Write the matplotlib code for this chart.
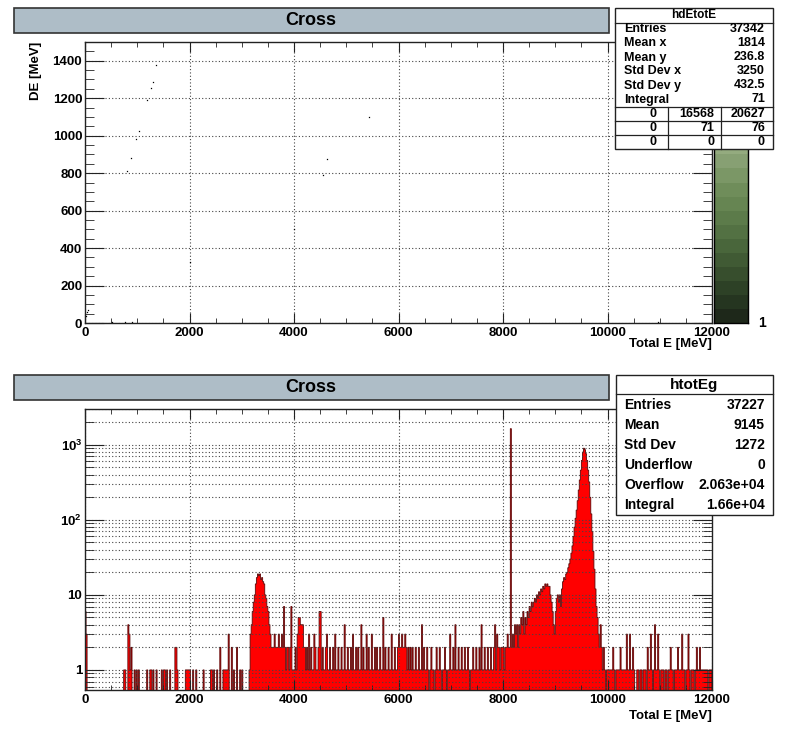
import numpy as np
import matplotlib.pyplot as plt
from matplotlib.patches import Rectangle
from matplotlib.colors import ListedColormap
from matplotlib.ticker import MultipleLocator, LogLocator, NullFormatter, FuncFormatter

plt.rcParams['font.family'] = ['Liberation Sans', 'DejaVu Sans']
plt.rcParams['font.weight'] = 'bold'
plt.rcParams['mathtext.fontset'] = 'custom'
plt.rcParams['mathtext.rm'] = 'Liberation Sans:bold'
plt.rcParams['mathtext.bf'] = 'Liberation Sans:bold'

W, H = 798, 734

# ---- top panel: hdEtotE, the few visible (Total E, DE) entries
scat_e = [1365, 1295, 1256, 1192, 1032, 968, 872, 808, 4635, 4558, 5430,
          2006, 3994, 45, 13, 64, 513, 769, 897, 10960]
scat_de = [1378, 1289, 1254, 1188, 1026, 982, 880, 811, 875, 790, 1102,
           325, 501, 57, 35, 67, 3, 3, 3, 5]

stats1_names = ['Entries', 'Mean x', 'Mean y', 'Std Dev x', 'Std Dev y', 'Integral']
stats1_vals = ['37342', '1814', '236.8', '3250', '432.5', '71']
stats1_table = [['0', '16568', '20627'],
                ['0', '71', '76'],
                ['0', '0', '0']]

# colour bands of the z palette, bottom to top
band_colors = ['#1e281a', '#253520', '#2d4126', '#374e2d', '#405a34', '#49663b',
               '#537143', '#5c7b4a', '#668552', '#6f8d5a', '#7b9766', '#87a073',
               '#94ab7f', '#a2b68d', '#b0c19c', '#bfccab', '#cdd8ba', '#dbe3c9',
               '#e8edd7', '#f4f7e6']

# ---- bottom panel: htotEg, 20 MeV bins from 0 to 12000 MeV
bin_width = 20
noise_low = [6, 3, 0, 0, 0, 0, 0, 0, 0, 0,
             0, 0, 0, 0, 0, 0, 0, 0, 0, 0,
             0, 0, 0, 0, 0, 0, 0, 0, 0, 0,
             0, 0, 0, 0, 0, 0, 0, 1, 1, 0,
             0, 4, 3, 1, 2, 0, 0, 1, 0, 1,
             0, 1, 0, 0, 0, 0, 0, 0, 0, 1,
             0, 0, 1, 1, 0, 1, 0, 0, 1, 0,
             0, 0, 0, 1, 0, 1, 1, 0, 1, 0,
             0, 1, 0, 0, 0, 0, 2, 2, 1, 0,
             0, 0, 0, 0, 0, 0, 1, 1, 1, 1,
             1, 0, 0, 1, 0, 0, 1, 0, 0, 0,
             0, 0, 0, 1, 0, 0, 0, 0, 0, 0,
             1, 1, 0, 1, 0, 0, 1, 0, 0, 2,
             0, 0, 1, 1, 1, 1, 1, 3, 0, 0,
             2, 0, 1, 0, 0, 2, 0, 0, 1, 0,
             1, 0, 0, 0, 0]                      # 0 - 3100
peak1 = [0, 0, 1, 3, 4, 6, 8, 10, 14, 17,
         19, 18, 19, 16, 17, 15, 14, 10, 9, 7,
         6, 4, 3, 2, 2, 2, 3, 2, 2, 2]          # 3100 - 3700
noise_mid = [3, 2, 2, 3, 2, 7, 2, 1, 2, 2,
             1, 2, 7, 1, 1, 1, 2, 1, 3, 5,
             5, 4, 4, 4, 2, 2, 1, 2, 1, 3,
             1, 2, 1, 1, 3, 2, 1, 1, 2, 6,
             6, 1, 2, 1, 1, 2, 3, 1, 1, 2,
             1, 1, 2, 1, 3, 1, 1, 2, 1, 1,
             2, 1, 1, 4, 1, 1, 2, 1, 1, 2,
             1, 3, 1, 1, 2, 1, 2, 1, 1, 4,
             1, 2, 1, 1, 3, 1, 2, 1, 1, 3,
             1, 1, 2, 1, 2, 1, 1, 2, 1, 1,
             5, 1, 2, 1, 1, 2, 1, 1, 3, 1,
             1, 2, 1, 1, 2, 3, 2, 2, 3, 2,
             2, 3, 2, 1, 2, 1, 2, 1, 2, 1,
             1, 2, 1, 1, 2, 1, 1, 4, 1, 2,
             1, 1, 2, 1, 0, 1, 2, 1, 1, 0,
             1, 2, 1, 1, 2, 1, 0, 1, 1, 2,
             1, 0, 1, 1, 3, 1, 1, 2, 1, 4,
             1, 1, 2, 1, 1, 2, 1, 1, 2, 1,
             1, 2, 1, 0, 1, 1, 2, 1, 1, 2,
             1, 1, 2, 1, 4, 1, 1, 2, 1, 1,
             2, 1, 1, 2, 1, 1, 2, 4, 1, 3,
             2, 2, 1, 2, 2, 2, 1, 2, 2, 3]      # 3700 - 8100
peak2 = [2, 2, 1640, 2, 3, 2, 4, 3, 4, 2,
         4, 3, 5, 4, 6, 3, 5, 4, 6, 5,
         7, 6, 8, 7, 8, 9, 8, 10, 9, 11,
         10, 12, 11, 13, 12, 14, 13, 14, 13, 13,
         10, 8, 6, 4, 3, 6, 9, 10, 8, 10,
         7, 12, 15, 17, 16, 19, 20, 23, 26, 30,
         36, 45, 60, 80, 105, 135, 180, 250, 340, 460,
         620, 800, 900, 860, 760, 620, 460, 320, 200, 120,
         70, 38, 22, 12, 7, 5, 3, 2, 4, 2,
         1, 2, 1, 0, 1]                          # 8100 - 10000
noise_high = [1, 1, 1, 1, 1, 2, 1, 0, 1, 1,
              1, 1, 2, 1, 1, 1, 1, 1, 3, 1,
              1, 3, 1, 1, 2, 1, 0, 0, 1, 1,
              0, 1, 1, 0, 1, 1, 1, 0, 2, 1,
              1, 3, 1, 0, 1, 4, 1, 1, 3, 1,
              0, 1, 1, 1, 0, 1, 1, 0, 1, 1,
              2, 1, 1, 0, 1, 1, 1, 2, 1, 1,
              1, 3, 1, 1, 0, 1, 1, 3, 1, 0,
              1, 1, 1, 0, 1, 2, 1, 1, 2, 1,
              1, 1, 1, 1, 1, 1, 0, 1, 1, 1]     # 10000 - 12000

stats2_names = ['Entries', 'Mean', 'Std Dev', 'Underflow', 'Overflow', 'Integral']
stats2_vals = ['37227', '9145', '1272', '0', '2.063e+04', '1.66e+04']

counts = np.array(noise_low + peak1 + noise_mid + peak2 + noise_high, dtype=float)
edges = np.arange(len(counts) + 1) * bin_width


def fx(px):
    return px / W


def fy(py):
    return 1 - py / H


fig = plt.figure(figsize=(W / 100, H / 100), dpi=100)
grid_kw = dict(color='#444444', linestyle=(0, (1, 2)), linewidth=0.8)


def style_axis(ax):
    for s in ax.spines.values():
        s.set_linewidth(1.0)
        s.set_color('#222222')
    ax.tick_params(which='both', direction='in', top=True, right=True,
                   labelsize=9.5, colors='#222222', labelcolor='black')
    ax.tick_params(axis='x', which='major', length=7.2, pad=3)
    ax.tick_params(axis='x', which='minor', length=3.6)
    ax.tick_params(axis='y', which='major', length=13.5, pad=2)
    ax.tick_params(axis='y', which='minor', length=6.7)
    ax.xaxis.set_major_locator(MultipleLocator(2000))
    ax.xaxis.set_minor_locator(MultipleLocator(500))
    ax.set_xlim(0, 12000)


# ---------------- top panel
ax1 = fig.add_axes([fx(85), fy(323), fx(627), 281 / H])
style_axis(ax1)
ax1.set_ylim(0, 1500)
ax1.yaxis.set_major_locator(MultipleLocator(200))
ax1.yaxis.set_minor_locator(MultipleLocator(50))
ax1.grid(True, which='major', **grid_kw)
ax1.plot(scat_e, scat_de, 's', color='black', ms=0.9, mew=0)

cax = fig.add_axes([fx(714), fy(323), fx(34), 281 / H])
cax.imshow(np.arange(len(band_colors)).reshape(-1, 1), cmap=ListedColormap(band_colors),
           origin='lower', aspect='auto', extent=[0, 1, 0, len(band_colors)])
cax.set_xticks([])
cax.set_yticks([])
for s in cax.spines.values():
    s.set_linewidth(1.0)
fig.text(fx(762), fy(323), '1', fontsize=10, ha='center', va='center')

fig.text(fx(36), fy(42), 'DE [MeV]', rotation=90, fontsize=9.5, ha='center', va='top')
fig.text(fx(712), fy(344), 'Total E [MeV]', fontsize=9.5, ha='right', va='center')

# ---------------- bottom panel
ax2 = fig.add_axes([fx(85), fy(690), fx(627), 281 / H])
ax2.set_yscale('log')
style_axis(ax2)
ax2.set_ylim(0.54, 3000)
ax2.yaxis.set_major_locator(LogLocator(base=10))
ax2.yaxis.set_minor_locator(LogLocator(base=10, subs=np.arange(2, 10)))
ax2.yaxis.set_minor_formatter(NullFormatter())
ax2.yaxis.set_major_formatter(FuncFormatter(
    lambda v, p: {1: '1', 10: '10', 100: r'$10^{2}$', 1000: r'$10^{3}$'}.get(int(round(v)), '')))
ax2.grid(True, which='both', axis='y', **grid_kw)
ax2.grid(True, which='major', axis='x', **grid_kw)

floor = 1e-2
shown = np.where(counts > 0, counts, floor)
ax2.stairs(shown, edges, baseline=floor, fill=True, color='#ff0000', lw=0)
ax2.stairs(shown, edges, baseline=floor, color='#5a0808', lw=0.6)

fig.text(fx(712), fy(716), 'Total E [MeV]', fontsize=9.5, ha='right', va='center')

# ---------------- title boxes
for top in (8, 375):
    fig.add_artist(Rectangle((fx(14), fy(top + 25)), fx(595), 25 / H, transform=fig.transFigure,
                             facecolor='#aebdc7', edgecolor='#333333', lw=1.2, zorder=3))
    fig.text(fx(311), fy(top + 12.5), 'Cross', fontsize=13, ha='center', va='center', zorder=4)

# ---------------- stats box top
fig.add_artist(Rectangle((fx(615), fy(149)), fx(158), 141 / H, transform=fig.transFigure,
                         facecolor='white', edgecolor='#222222', lw=1.0, zorder=5))
for y0, x0, x1 in [(22.7, 615, 773), (107.3, 615, 773), (121, 615, 773), (135, 615, 773)]:
    fig.add_artist(plt.Line2D([fx(x0), fx(x1)], [fy(y0), fy(y0)], transform=fig.transFigure,
                              color='#222222', lw=0.9, zorder=6))
for xc in (668.3, 721.3):
    fig.add_artist(plt.Line2D([fx(xc), fx(xc)], [fy(107.3), fy(149)], transform=fig.transFigure,
                              color='#222222', lw=0.9, zorder=6))
fig.text(fx(694), fy(15.5), 'hdEtotE', fontsize=8.5, ha='center', va='center', zorder=7)
for i, (nm, vl) in enumerate(zip(stats1_names, stats1_vals)):
    yy = 29.5 + i * 14
    fig.text(fx(624), fy(yy), nm, fontsize=9, ha='left', va='center', zorder=7)
    fig.text(fx(765), fy(yy), vl, fontsize=9, ha='right', va='center', zorder=7)
col_right = [657, 714, 765]
for r, row in enumerate(stats1_table):
    yy = 114 + r * 14
    for c, vl in enumerate(row):
        fig.text(fx(col_right[c]), fy(yy), vl, fontsize=9, ha='right', va='center', zorder=7)

# ---------------- stats box bottom
fig.add_artist(Rectangle((fx(615.7), fy(515.3)), fx(157), 140.6 / H, transform=fig.transFigure,
                         facecolor='white', edgecolor='#222222', lw=1.0, zorder=5))
fig.add_artist(plt.Line2D([fx(615.7), fx(772.7)], [fy(394.3), fy(394.3)], transform=fig.transFigure,
                          color='#222222', lw=0.9, zorder=6))
fig.text(fx(694), fy(384.5), 'htotEg', fontsize=11, ha='center', va='center', zorder=7)
for i, (nm, vl) in enumerate(zip(stats2_names, stats2_vals)):
    yy = 405 + i * 20
    fig.text(fx(624), fy(yy), nm, fontsize=10, ha='left', va='center', zorder=7)
    fig.text(fx(765), fy(yy), vl, fontsize=10, ha='right', va='center', zorder=7)

fig.savefig('out.png', dpi=100)
